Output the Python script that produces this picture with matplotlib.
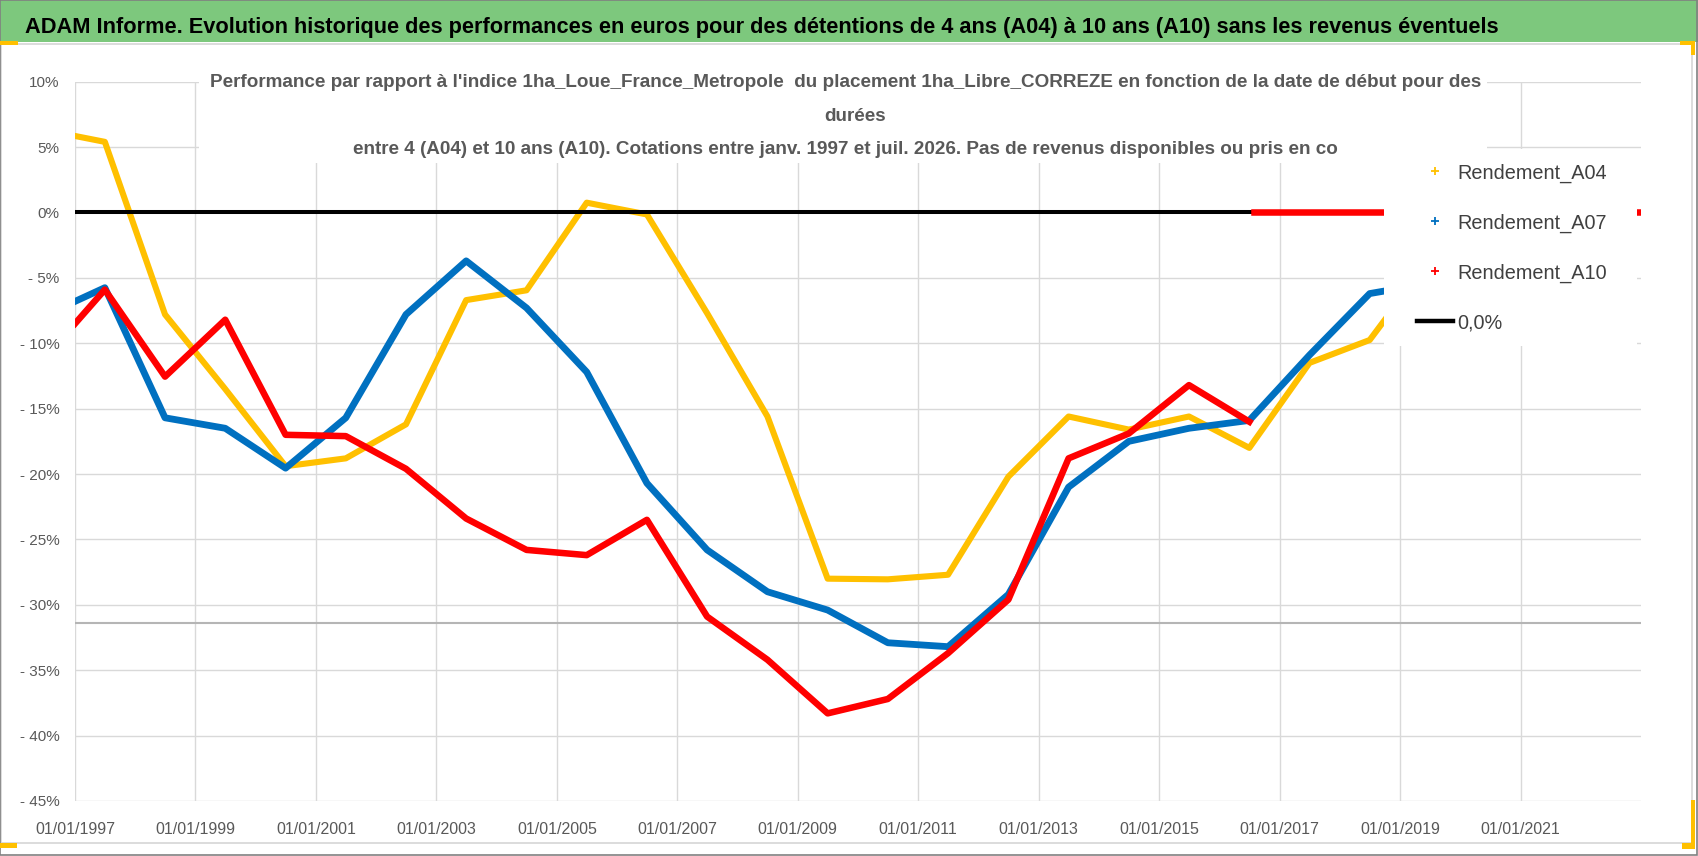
import numpy as np
import matplotlib
matplotlib.use('Agg')
import matplotlib.pyplot as plt
import matplotlib.dates as mdates
from matplotlib.patches import Rectangle
from matplotlib.lines import Line2D
from matplotlib.ticker import FuncFormatter

plt.rcParams['font.family'] = ['Liberation Sans', 'DejaVu Sans']

# --- donnees (en %) ---
dates = ['1997-01-01', '1997-07-01', '1998-07-01', '1999-07-01', '2000-07-01',
         '2001-07-01', '2002-07-01', '2003-07-01', '2004-07-01', '2005-07-01',
         '2006-07-01', '2007-07-01', '2008-07-01', '2009-07-01', '2010-07-01',
         '2011-07-01', '2012-07-01', '2013-07-01', '2014-07-01', '2015-07-01',
         '2016-07-01', '2017-07-01', '2018-07-01', '2018-10-01']
a04 = [5.85, 5.4, -7.8, -13.5, -19.4, -18.8, -16.2, -6.7, -5.95, 0.75,
       -0.15, -7.7, -15.6, -28.0, -28.05, -27.7, -20.2, -15.6, -16.6, -15.6,
       -18.0, -11.5, -9.75, -8.2]
a07 = [-6.8, -5.75, -15.7, -16.5, -19.55, -15.7, -7.8, -3.7, -7.3, -12.2,
       -20.7, -25.8, -29.0, -30.4, -32.9, -33.2, -29.2, -21.0, -17.5, -16.5,
       -15.9, -10.9, -6.2, -6.0]
a10 = [-8.5, -5.9, -12.55, -8.2, -17.0, -17.1, -19.6, -23.4, -25.8, -26.2,
       -23.5, -30.9, -34.2, -38.3, -37.2, -33.7, -29.6, -18.8, -16.9, -13.2,
       -16.0, np.nan, np.nan, np.nan]
# A10 sans donnees apres 2016 -> 0
a10_tail_dates = ['2016-08-01', '2022-12-15']
a10_tail = [0, 0]
zero_dates = ['1997-01-01', '2016-08-01']
zero_vals = [0, 0]
axis_cross = -31.4

tick_years = [1997, 1999, 2001, 2003, 2005, 2007, 2009, 2011, 2013, 2015, 2017, 2019, 2021]
y_ticks = [10, 5, 0, -5, -10, -15, -20, -25, -30, -35, -40, -45]
labels = ['Rendement_A04', 'Rendement_A07', 'Rendement_A10', '0,0%']
colors = ['#FFC000', '#0070C0', '#FF0000', '#000000']

title = ("ADAM Informe. Evolution historique des performances en euros pour des "
         "détentions de 4 ans (A04) à 10 ans (A10) sans les revenus éventuels")
sub1 = ("Performance par rapport à l'indice 1ha_Loue_France_Metropole  du placement "
        "1ha_Libre_CORREZE en fonction de la date de début pour des")
sub2 = "durées"
sub3 = ("entre 4 (A04) et 10 ans (A10). Cotations entre janv. 1997 et juil. 2026. "
        "Pas de revenus disponibles ou pris en co")

W, H = 1698, 856
fig = plt.figure(figsize=(W / 100, H / 100), dpi=100)


def fx(x):
    return x / W


def fy(y):
    return 1 - y / H


def box(x0, y0, x1, y1, **kw):
    r = Rectangle((fx(x0), fy(y1)), fx(x1) - fx(x0), (y1 - y0) / H,
                  transform=fig.transFigure, **kw)
    fig.patches.append(r)


# cadre, bandeau vert, poignees
box(0, 0, W, 42, facecolor='#7dc87d', edgecolor='none', zorder=1)
box(1, 44, 1692, 843, facecolor='none', edgecolor='#d6d6d6', lw=1.2, zorder=1)
box(0, 0, W - 1, H - 1, facecolor='none', edgecolor='#808080', lw=1.2, zorder=9)
for x0, y0, x1, y1 in [(0, 41, 18, 45), (1680, 41, 1695, 45), (1691, 41, 1695, 55),
                       (0, 843, 17, 848), (1682, 843, 1695, 849), (1691, 800, 1695, 849)]:
    box(x0, y0, x1, y1, facecolor='#ffc000', edgecolor='none', zorder=9)

ax = fig.add_axes([fx(75), fy(801), fx(1641) - fx(75), (801 - 81.7) / H])
d = np.array(dates, dtype='datetime64[D]')

ax.axhline(axis_cross, color='#b5b5b5', lw=1.5, zorder=1)
ax.plot(d, a04, color=colors[0], lw=4.4, zorder=3)
ax.plot(d, a07, color=colors[1], lw=4.9, zorder=4)
ax.plot(np.array(zero_dates, dtype='datetime64[D]'), zero_vals, color='k', lw=2.9, zorder=5)
ax.plot(d, a10, color=colors[2], lw=4.7, zorder=6)
ax.plot(np.array(a10_tail_dates, dtype='datetime64[D]'), a10_tail, color=colors[2], lw=4.7, zorder=6)

ax.set_xlim(np.datetime64('1997-01-01'), np.datetime64('2023-01-01'))
ax.set_ylim(-45, 10)
ax.set_xticks([np.datetime64(f'{y}-01-01') for y in tick_years])
ax.xaxis.set_major_formatter(mdates.DateFormatter('%d/%m/%Y'))
ax.set_yticks(y_ticks)
ax.yaxis.set_major_formatter(FuncFormatter(lambda v, p: f'{v:.0f}%' if v >= 0 else f'- {abs(v):.0f}%'))
ax.tick_params(length=0, colors='#595959')
ax.tick_params(axis='y', pad=11, labelsize=11)
ax.tick_params(axis='x', pad=15, labelsize=11.5)
for s in ax.spines.values():
    s.set_visible(False)
ax.grid(color='#d9d9d9', lw=1)
ax.set_axisbelow(True)

# fonds blancs du titre et de la legende
box(199, 55, 1487, 163, facecolor='white', edgecolor='none', zorder=5)
box(1384, 149, 1637, 346, facecolor='white', edgecolor='none', zorder=5)

renderer = fig.canvas.get_renderer()


def fit(t, width):
    w = t.get_window_extent(renderer=renderer).width
    t.set_fontsize(t.get_fontsize() * width / w)


t0 = fig.text(fx(25), fy(33), title, fontsize=18, fontweight='bold', color='black',
              va='baseline', ha='left', zorder=7)
fit(t0, 1470)
t1 = fig.text(fx(846), fy(87), sub1, fontsize=15, fontweight='bold', color='#595959',
              va='baseline', ha='center', zorder=7)
fit(t1, 1281)
fs = t1.get_fontsize()
fig.text(fx(855), fy(121), sub2, fontsize=fs, fontweight='bold', color='#595959',
         va='baseline', ha='center', zorder=7)
fig.text(fx(845), fy(154), sub3, fontsize=fs, fontweight='bold', color='#595959',
         va='baseline', ha='center', zorder=7)

# legende : taille de police ajustee a la largeur, puis pas des lignes
tmp = fig.text(0, 0, labels[0], fontsize=14)
fit(tmp, 150)
lf = tmp.get_fontsize()
tmp.remove()
lf_px = lf * 100 / 72

handles = [Line2D([], [], ls='none', marker='+', color=c, markersize=6, mew=1.3) for c in colors[:3]]
handles.append(Line2D([], [], color='k', lw=3.2))


def make_legend(ax_x, ax_y, ls):
    lg = fig.legend(handles, labels, loc='upper left', bbox_to_anchor=(fx(ax_x), fy(ax_y)),
                    frameon=False, borderpad=0, handlelength=36 / lf_px,
                    handletextpad=4 / lf_px, labelspacing=ls, fontsize=lf,
                    labelcolor='#404040')
    lg.set_zorder(7)
    return lg


lx, ly, ls = 1417, 159, 0.9
leg = make_legend(lx, ly, ls)
fig.canvas.draw()
ext = [t.get_window_extent(renderer=fig.canvas.get_renderer()) for t in leg.get_texts()]
c0 = H - (ext[0].y0 + ext[0].y1) / 2
c1 = H - (ext[1].y0 + ext[1].y1) / 2
pitch = c1 - c0
ls = ls + (50 - pitch) / lf_px
lx = lx + (1457 - ext[0].x0)
ly = ly + (173 - c0)
leg.remove()
leg = make_legend(lx, ly, ls)

fig.savefig('out.png', dpi=100)
